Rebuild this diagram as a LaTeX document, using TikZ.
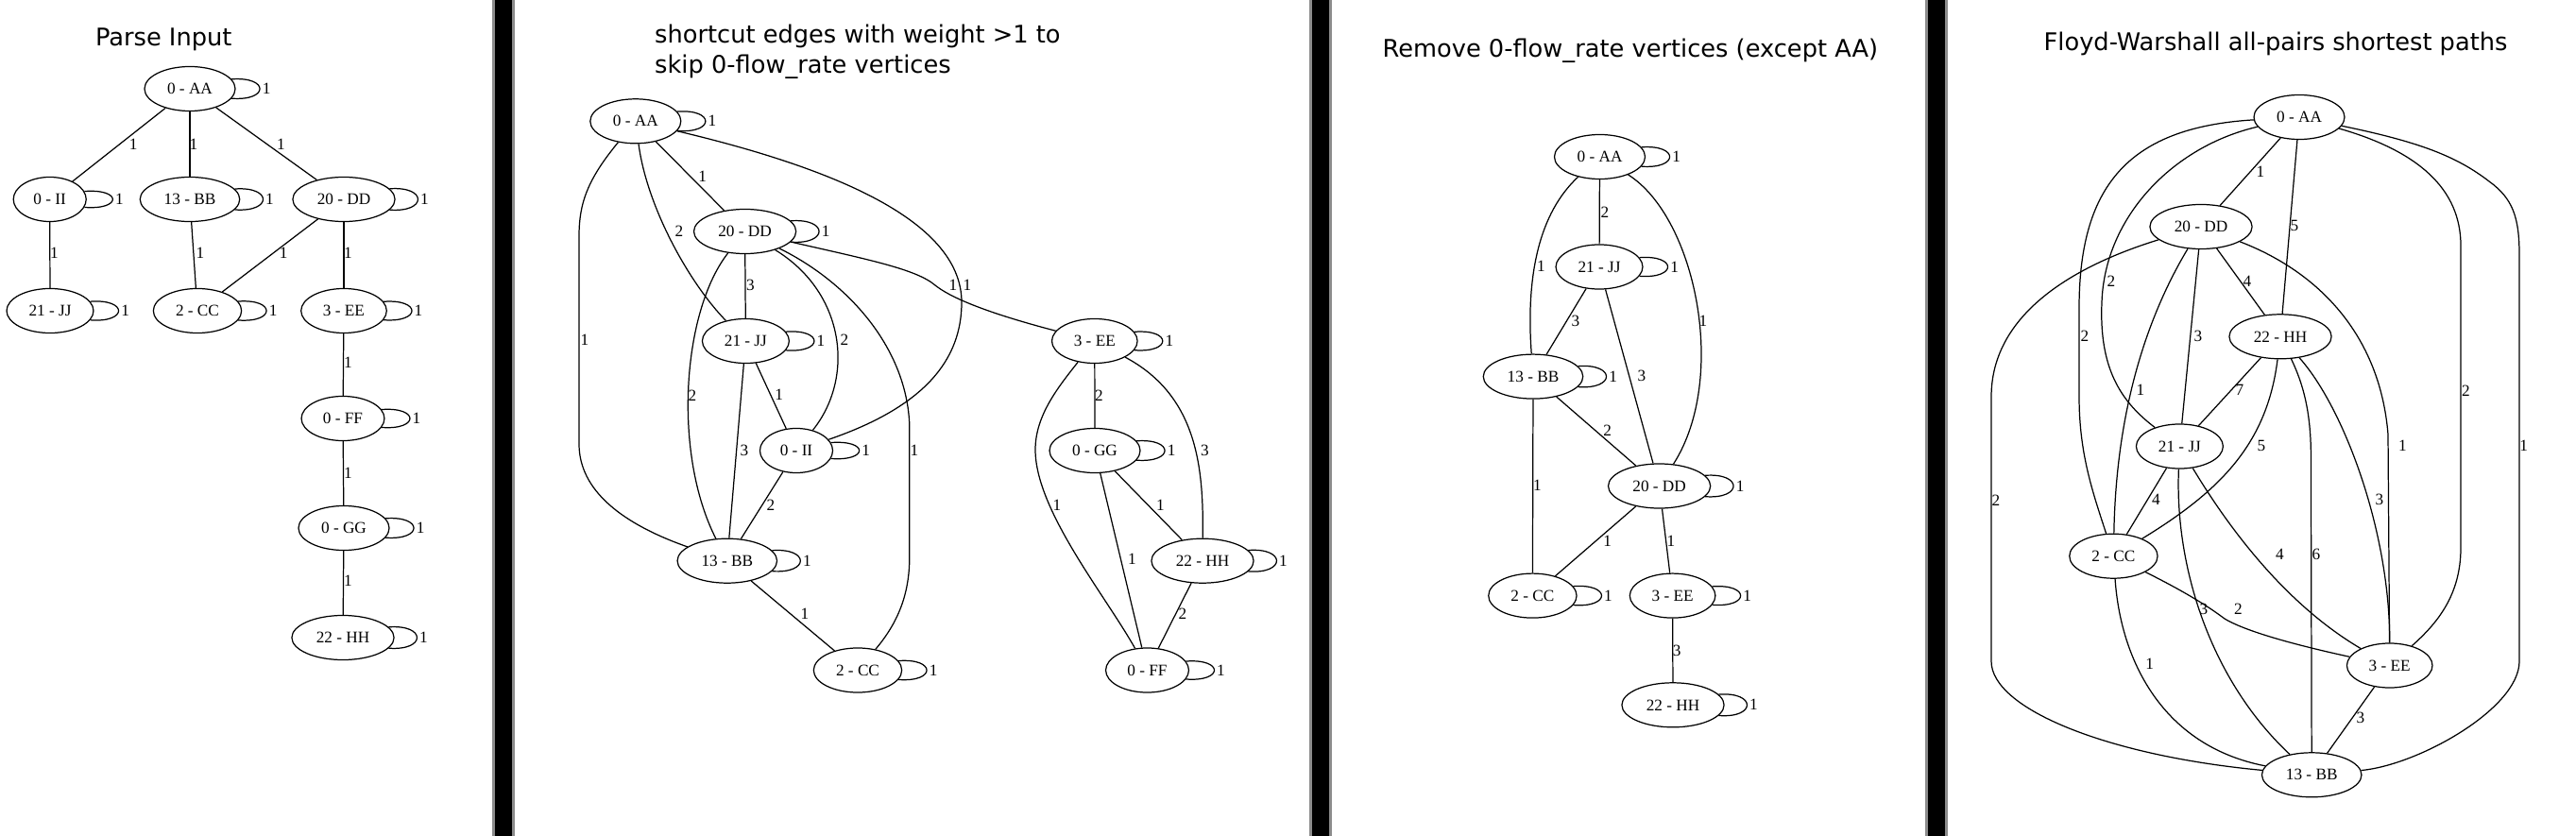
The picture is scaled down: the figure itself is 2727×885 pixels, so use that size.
\documentclass[tikz,border=0pt]{standalone}
\usepackage{fontspec}
\setmainfont{Liberation Serif}
\newfontfamily\titlefont{DejaVu Sans}
\usetikzlibrary{shapes.geometric}

\tikzset{
  vtx/.style={draw, ellipse, inner xsep=.1cm, inner ysep=0pt, minimum height=.47cm,
    font=\fontsize{4.9}{5.5}\selectfont},
  wt/.style={inner sep=0pt, font=\fontsize{4.9}{5.5}\selectfont},
  ttl/.style={anchor=base west, inner sep=0pt, font=\titlefont\fontsize{7.3}{9}\selectfont},
  barfringe/.style={fill=black!45},
  barcore/.style={fill=black},
}
% loop on the right of a vertex, weight 1
\newcommand{\selfloop}[1]{\draw (#1.13) .. controls +(40,-3) and +(40,3) .. (#1.-13) node[wt, pos=.5, right=.6pt] {1};}

\begin{document}
\begin{tikzpicture}[x=.01cm, y=-.01cm, line width=.35pt]
\useasboundingbox (0,0) rectangle (2727,885);
\fill[white] (0,0) rectangle (2727,885);

% panel separators
\fill[barfringe] (520.5,0) rectangle (544.5,885);
\fill[barcore] (523.5,0) rectangle (541.5,885);
\fill[barfringe] (1386,0) rectangle (1410,885);
\fill[barcore] (1389,0) rectangle (1407,885);
\fill[barfringe] (2038,0) rectangle (2062,885);
\fill[barcore] (2041,0) rectangle (2059,885);

% panel 1
\node[ttl] (t1) at (100.4,48.5) {Parse Input};
\node[vtx] (aa1) at (201,94) {0 - AA};
\node[vtx] (ii1) at (52.7,211) {0 - II};
\node[vtx] (bb1) at (201,211) {13 - BB};
\node[vtx] (dd1) at (364,211) {20 - DD};
\node[vtx] (jj1) at (53,329) {21 - JJ};
\node[vtx] (cc1) at (209,329) {2 - CC};
\node[vtx] (ee1) at (364,329) {3 - EE};
\node[vtx] (ff1) at (363,443) {0 - FF};
\node[vtx] (gg1) at (364,559) {0 - GG};
\node[vtx] (hh1) at (363,675) {22 - HH};
\draw (aa1) -- (ii1) node[wt] at (141.3,152.4) {1};
\draw (aa1) -- (bb1) node[wt] at (205,152.4) {1};
\draw (aa1) -- (dd1) node[wt] at (297.5,152.4) {1};
\draw (ii1) -- (jj1) node[wt] at (57.5,268) {1};
\draw (bb1) -- (cc1) node[wt] at (212,268) {1};
\draw (dd1) -- (cc1) node[wt] at (300.2,268) {1};
\draw (dd1) -- (ee1) node[wt] at (368.5,268) {1};
\draw (ee1) -- (ff1) node[wt] at (368.5,383.7) {1};
\draw (ff1) -- (gg1) node[wt] at (368.5,500.6) {1};
\draw (gg1) -- (hh1) node[wt] at (368.5,615) {1};
\selfloop{aa1} \selfloop{ii1} \selfloop{bb1} \selfloop{dd1} \selfloop{jj1}
\selfloop{cc1} \selfloop{ee1} \selfloop{ff1} \selfloop{gg1} \selfloop{hh1}

% panel 2
\node[ttl] (t2a) at (692.6,46) {shortcut edges with weight >1 to};
\node[ttl] (t2b) at (692.6,77.5) {skip 0-flow\_rate vertices};
\node[vtx] (aa2) at (672.8,128.3) {0 - AA};
\node[vtx] (dd2) at (788.6,245) {20 - DD};
\node[vtx] (jj2) at (789.4,361) {21 - JJ};
\node[vtx] (ee2) at (1158.8,361) {3 - EE};
\node[vtx] (ii2) at (843,477) {0 - II};
\node[vtx] (gg2) at (1159,477) {0 - GG};
\node[vtx] (bb2) at (769.8,593.7) {13 - BB};
\node[vtx] (hh2) at (1273,593.7) {22 - HH};
\node[vtx] (cc2) at (908,709.5) {2 - CC};
\node[vtx] (ff2) at (1214.5,709.5) {0 - FF};
\draw (aa2) -- (dd2) node[wt] at (743.7,186.7) {1};
\draw (aa2) .. controls (685,220) and (730,300) .. (jj2) node[wt] at (719,245) {2};
\draw (aa2) .. controls (622,190) and (613,215) .. (613,250) -- (613,470)
  .. controls (613,520) and (660,555) .. (bb2) node[wt] at (619,360) {1};
\draw (aa2) .. controls (870,175) and (1018,230) .. (1018,320)
  .. controls (1018,380) and (980,430) .. (ii2) node[wt] at (1024,302) {1};
\draw (dd2) -- (jj2) node[wt] at (794.3,301.7) {3};
\draw (dd2) .. controls (722,330) and (712,480) .. (bb2) node[wt] at (733,418.3) {2};
\draw (dd2) .. controls (895,310) and (905,400) .. (ii2) node[wt] at (894,360) {2};
\draw (dd2) .. controls (900,300) and (960,370) .. (962.8,450) -- (962.8,590)
  .. controls (962.8,630) and (950,660) .. (cc2) node[wt] at (968,476.7) {1};
\draw (dd2) .. controls (920,275) and (970,285) .. (990,302)
  .. controls (1005,314) and (1040,330) .. (ee2) node[wt] at (1009,302) {1};
\draw (jj2) -- (bb2) node[wt] at (788,476.7) {3};
\draw (jj2) -- (ii2) node[wt] at (824.6,418.3) {1};
\draw (ii2) -- (bb2) node[wt] at (816,535) {2};
\draw (bb2) -- (cc2) node[wt] at (852,650) {1};
\draw (ee2) -- (gg2) node[wt] at (1163.5,418.3) {2};
\draw (ee2) .. controls (1120,410) and (1096,440) .. (1096,476)
  .. controls (1096,540) and (1170,630) .. (ff2) node[wt] at (1118.8,535) {1};
\draw (ee2) .. controls (1270,420) and (1274,500) .. (hh2) node[wt] at (1275.5,476.7) {3};
\draw (gg2) -- (hh2) node[wt] at (1228.5,535) {1};
\draw (gg2) -- (ff2) node[wt] at (1198.5,591.7) {1};
\draw (hh2) -- (ff2) node[wt] at (1251.8,650) {2};
\selfloop{aa2} \selfloop{dd2} \selfloop{jj2} \selfloop{ee2} \selfloop{ii2}
\selfloop{gg2} \selfloop{bb2} \selfloop{hh2} \selfloop{cc2} \selfloop{ff2}

% panel 3
\node[ttl] (t3) at (1463,61) {Remove 0-flow\_rate vertices (except AA)};
\node[vtx] (aa3) at (1693.5,166) {0 - AA};
\node[vtx] (jj3) at (1693,282.5) {21 - JJ};
\node[vtx] (bb3) at (1623,398.6) {13 - BB};
\node[vtx] (dd3) at (1756.6,514.5) {20 - DD};
\node[vtx] (cc3) at (1622.4,630.6) {2 - CC};
\node[vtx] (ee3) at (1770.6,630.6) {3 - EE};
\node[vtx] (hh3) at (1771,746.3) {22 - HH};
\draw (aa3) -- (jj3) node[wt] at (1698.8,224.6) {2};
\draw (aa3) .. controls (1630,225) and (1615,290) .. (bb3) node[wt] at (1631.5,282) {1};
\draw (aa3) .. controls (1795,230) and (1830,400) .. (dd3) node[wt] at (1803,340) {1};
\draw (jj3) -- (bb3) node[wt] at (1667.8,340.3) {3};
\draw (jj3) -- (dd3) node[wt] at (1738,398) {3};
\draw (bb3) -- (dd3) node[wt] at (1701.6,456) {2};
\draw (bb3) -- (cc3) node[wt] at (1627.5,513.5) {1};
\draw (dd3) -- (cc3) node[wt] at (1701.6,572.8) {1};
\draw (dd3) -- (ee3) node[wt] at (1769,572.8) {1};
\draw (ee3) -- (hh3) node[wt] at (1775.2,688.5) {3};
\selfloop{aa3} \selfloop{jj3} \selfloop{bb3} \selfloop{dd3}
\selfloop{cc3} \selfloop{ee3} \selfloop{hh3}

% panel 4
\node[ttl] (t4) at (2163,54) {Floyd-Warshall all-pairs shortest paths};
\node[vtx] (aa4) at (2434,124) {0 - AA};
\node[vtx] (dd4) at (2330,240) {20 - DD};
\node[vtx] (hh4) at (2414,356.3) {22 - HH};
\node[vtx] (jj4) at (2307.4,472.5) {21 - JJ};
\node[vtx] (cc4) at (2237.4,588.7) {2 - CC};
\node[vtx] (ee4) at (2529.7,704.5) {3 - EE};
\node[vtx] (bb4) at (2447.2,820.3) {13 - BB};
\draw (aa4) -- (dd4) node[wt] at (2393,181.7) {1};
\draw (aa4) -- (hh4) node[wt] at (2429,239.3) {5};
\draw (aa4) .. controls (2300,155) and (2228,230) .. (2225,320)
  .. controls (2222,390) and (2245,425) .. (jj4) node[wt] at (2234.8,297.7) {2};
\draw (aa4) .. controls (2250,135) and (2200,200) .. (2201,330) -- (2201,420)
  .. controls (2201,480) and (2215,520) .. (cc4) node[wt] at (2207,356) {2};
\draw (aa4) .. controls (2560,160) and (2605,200) .. (2605,260) -- (2605,580)
  .. controls (2605,630) and (2580,660) .. (ee4) node[wt] at (2610.4,413.3) {2};
\draw (aa4) .. controls (2560,150) and (2600,165) .. (2635,192)
  .. controls (2660,210) and (2667,230) .. (2667,270) -- (2667,700)
  .. controls (2667,750) and (2560,810) .. (bb4) node[wt] at (2671.7,471.7) {1};
\draw (dd4) -- (jj4) node[wt] at (2327,356) {3};
\draw (dd4) -- (hh4) node[wt] at (2379,297.7) {4};
\draw (dd4) .. controls (2270,340) and (2240,440) .. (cc4) node[wt] at (2266,413.3) {1};
\draw (dd4) .. controls (2200,280) and (2108,330) .. (2108,420) -- (2108,700)
  .. controls (2108,750) and (2230,800) .. (bb4) node[wt] at (2113,529.3) {2};
\draw (dd4) .. controls (2460,290) and (2520,360) .. (2528,460) -- (ee4) node[wt] at (2543.3,471.7) {1};
\draw (hh4) -- (jj4) node[wt] at (2371,413.3) {7};
\draw (hh4) .. controls (2400,470) and (2350,520) .. (cc4) node[wt] at (2394,471.7) {5};
\draw (hh4) .. controls (2440,410) and (2446,440) .. (2446.4,480) -- (bb4) node[wt] at (2452,586.7) {6};
\draw (hh4) .. controls (2480,430) and (2530,560) .. (ee4) node[wt] at (2519,529.3) {3};
\draw (jj4) -- (cc4) node[wt] at (2282.3,529.3) {4};
\draw (jj4) .. controls (2360,560) and (2420,640) .. (ee4) node[wt] at (2413.5,586.7) {4};
\draw (jj4) .. controls (2302,600) and (2340,720) .. (bb4) node[wt] at (2333,645) {3};
\draw (cc4) .. controls (2310,625) and (2335,640) .. (2355,655)
  .. controls (2380,670) and (2440,685) .. (ee4) node[wt] at (2369.5,645) {2};
\draw (cc4) .. controls (2245,700) and (2290,790) .. (bb4) node[wt] at (2275.6,702.7) {1};
\draw (ee4) -- (bb4) node[wt] at (2499,760) {3};
\end{tikzpicture}
\end{document}
